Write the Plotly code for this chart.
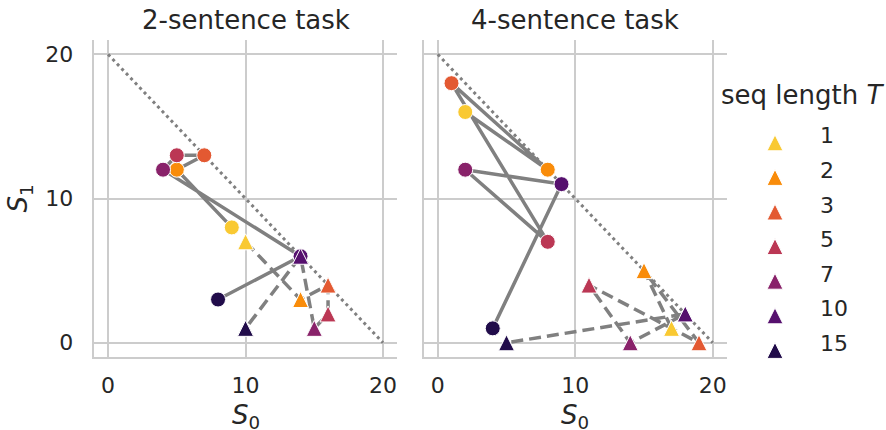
import plotly.graph_objects as go

# ---------------- data ----------------
T_VALUES = [1, 2, 3, 5, 7, 10, 15]
T_LABELS = ["1", "2", "3", "5", "7", "10", "15"]
T_COLORS = ["#f9c932", "#f98c0a", "#e35932", "#bb3754", "#89226a", "#56106e", "#210c4a"]

PANEL_TITLES = ["2-sentence task", "4-sentence task"]

# 2-sentence task: circles (solid path) and triangles (dashed path), ordered by T
TWO_CIRCLE_S0 = [9, 5, 7, 5, 4, 14, 8]
TWO_CIRCLE_S1 = [8, 12, 13, 13, 12, 6, 3]
TWO_TRI_S0 = [10, 14, 16, 16, 15, 14, 10]
TWO_TRI_S1 = [7, 3, 4, 2, 1, 6, 1]

# 4-sentence task
FOUR_CIRCLE_S0 = [2, 8, 1, 8, 2, 9, 4]
FOUR_CIRCLE_S1 = [16, 12, 18, 7, 12, 11, 1]
FOUR_TRI_S0 = [17, 15, 19, 11, 14, 18, 5]
FOUR_TRI_S1 = [1, 5, 0, 4, 0, 2, 0]

DIAG_S0 = [0, 20]
DIAG_S1 = [20, 0]

TICKS = [0, 10, 20]

# ---------------- style ----------------
W, H = 886, 430
FONT = "DejaVu Sans"
TXT = "#262626"
GRID = "#cccccc"
LINE_GRAY = "#808080"
TRI_SIZE = 16
CIRC_SIZE = 15
Y_RANGE = [-1, 21]

XL = [94.3 / W, 396.8 / W]
XR = [424.0 / W, 726.5 / W]
YD = [1 - 357.2 / H, 1 - 39.9 / H]

# "arrow-up" markers have their tip at the data point; a hidden overlay axis
# shifted by half a marker height centres the triangle on its point.
px_per_unit = (YD[1] - YD[0]) * H / (Y_RANGE[1] - Y_RANGE[0])
shift = (TRI_SIZE / 2) / px_per_unit
TRI_RANGE = [Y_RANGE[0] - shift, Y_RANGE[1] - shift]

fig = go.Figure()

panels = [
    ("x", "y", "y3", TWO_CIRCLE_S0, TWO_CIRCLE_S1, TWO_TRI_S0, TWO_TRI_S1, False),
    ("x2", "y2", "y4", FOUR_CIRCLE_S0, FOUR_CIRCLE_S1, FOUR_TRI_S0, FOUR_TRI_S1, True),
]

for xa, ya, ta, cx, cy, tx, ty, legend in panels:
    fig.add_trace(go.Scatter(x=DIAG_S0, y=DIAG_S1, xaxis=xa, yaxis=ya, mode="lines",
                             line=dict(color=LINE_GRAY, width=3, dash="3px,3.5px"),
                             showlegend=False, hoverinfo="skip"))
    fig.add_trace(go.Scatter(x=cx, y=cy, xaxis=xa, yaxis=ya, mode="lines",
                             line=dict(color=LINE_GRAY, width=3.5), showlegend=False,
                             hoverinfo="skip"))
    fig.add_trace(go.Scatter(x=tx, y=ty, xaxis=xa, yaxis=ya, mode="lines",
                             line=dict(color=LINE_GRAY, width=3.5, dash="12px,6px"),
                             showlegend=False, hoverinfo="skip"))
    for i, t in enumerate(T_VALUES):
        fig.add_trace(go.Scatter(x=[cx[i]], y=[cy[i]], xaxis=xa, yaxis=ya, mode="markers",
                                 marker=dict(symbol="circle", size=CIRC_SIZE, color=T_COLORS[i],
                                             line=dict(color="white", width=1)),
                                 showlegend=False, name=T_LABELS[i], legendgroup=T_LABELS[i]))
    for i, t in enumerate(T_VALUES):
        fig.add_trace(go.Scatter(x=[tx[i]], y=[ty[i]], xaxis=xa, yaxis=ta, mode="markers",
                                 marker=dict(symbol="arrow-up", size=TRI_SIZE, color=T_COLORS[i],
                                             line=dict(color="white", width=1)),
                                 showlegend=legend, name=T_LABELS[i], legendgroup=T_LABELS[i]))

axis_common = dict(
    tickvals=TICKS, showgrid=True, gridcolor=GRID, gridwidth=1.5,
    showline=True, linecolor=GRID, linewidth=1.5, zeroline=False, ticks="",
    tickfont=dict(family=FONT, size=22, color=TXT), fixedrange=True, automargin=False,
)
title_font = dict(size=26, family=FONT, color=TXT)
S0_TITLE = "<i>S</i><sub>0</sub>"

fig.update_layout(
    width=W, height=H,
    margin=dict(l=0, r=0, t=0, b=0, autoexpand=False),
    paper_bgcolor="white", plot_bgcolor="white",
    font=dict(family=FONT, color=TXT),
    xaxis=dict(domain=XL, anchor="y", range=[-1, 21], ticklabelstandoff=8, **axis_common),
    yaxis=dict(domain=YD, anchor="x", range=Y_RANGE, ticklabelstandoff=15,
               title=dict(text="<i>S</i><sub>1</sub>", font=title_font, standoff=10),
               **axis_common),
    xaxis2=dict(domain=XR, anchor="y2", range=[-1, 21], ticklabelstandoff=8, **axis_common),
    yaxis2=dict(domain=YD, anchor="x2", range=Y_RANGE, showticklabels=False, **axis_common),
    yaxis3=dict(overlaying="y", anchor="x", range=TRI_RANGE, visible=False, fixedrange=True),
    yaxis4=dict(overlaying="y2", anchor="x2", range=TRI_RANGE, visible=False, fixedrange=True),
    legend=dict(x=730 / W, y=1 - 114 / H, xanchor="left", yanchor="top",
                font=dict(family=FONT, size=22, color=TXT), bgcolor="rgba(0,0,0,0)",
                itemwidth=80, tracegroupgap=3, traceorder="grouped"),
    annotations=[
        dict(text=PANEL_TITLES[0], x=(XL[0] + XL[1]) / 2, y=1 - 20 / H, xref="paper", yref="paper",
             xanchor="center", yanchor="middle", showarrow=False, font=title_font),
        dict(text=PANEL_TITLES[1], x=(XR[0] + XR[1]) / 2, y=1 - 20 / H, xref="paper", yref="paper",
             xanchor="center", yanchor="middle", showarrow=False, font=title_font),
        dict(text=S0_TITLE, x=(XL[0] + XL[1]) / 2, y=1 - 416 / H, xref="paper", yref="paper",
             xanchor="center", yanchor="middle", showarrow=False, font=title_font),
        dict(text=S0_TITLE, x=(XR[0] + XR[1]) / 2, y=1 - 416 / H, xref="paper", yref="paper",
             xanchor="center", yanchor="middle", showarrow=False, font=title_font),
        dict(text="seq length <i>T</i>", x=719 / W, y=1 - 95 / H, xref="paper", yref="paper",
             xanchor="left", yanchor="middle", showarrow=False, font=title_font),
    ],
)

fig.write_html("out.html")
